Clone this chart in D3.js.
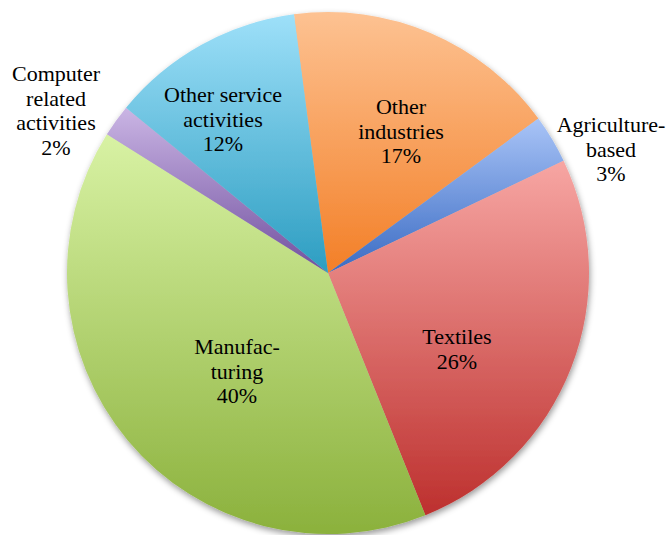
<!DOCTYPE html>
<html>
<head>
<meta charset="utf-8">
<script src="https://cdn.jsdelivr.net/npm/d3@7"></script>
<style>
  svg text { font-family: "Times New Roman", "Liberation Serif", Tinos, serif !important; }
</style>
</head>
<body style="margin:0;padding:0;background:#ffffff">
<svg id="chart" width="666" height="535" style="display:block;font-family:'Times New Roman'"></svg>
<script>
// Sectors, clockwise from just left of twelve o'clock
const categories = ["Other industries", "Agriculture-based", "Textiles", "Manufacturing",
                    "Computer related activities", "Other service activities"];
const shares = [17, 3, 26, 40, 2, 12];
const labelLines = [
  ["Other", "industries", "17%"],
  ["Agriculture-", "based", "3%"],
  ["Textiles", "26%"],
  ["Manufac-", "turing", "40%"],
  ["Computer", "related", "activities", "2%"],
  ["Other service", "activities", "12%"]
];

// Gradient stops per sector (light top, deep bottom)
const topColors    = ["#fdc292", "#a9c4f7", "#f7a6a3", "#d8f2a4", "#cab5e4", "#9ee0f9"];
const bottomColors = ["#f37f27", "#3a6bc3", "#bd302e", "#8bb13c", "#71509f", "#2c9dc1"];

// Layout
const cx = 328, cy = 273, radius = 261;
const startDeg = -7.5;
const lineStep = 24.5;
// label anchor: [dx from centre, first baseline dy from centre]
const labelOffsets = [[73, -159], [283, -141], [129, 71], [-91, 81], [-272, -192], [-105, -171]];

const svg = d3.select("#chart");
const defs = svg.append("defs");

const shadow = defs.append("filter").attr("id", "pieShadow")
  .attr("x", "-10%").attr("y", "-10%").attr("width", "120%").attr("height", "120%");
shadow.append("feDropShadow")
  .attr("dx", 1).attr("dy", 3).attr("stdDeviation", 3)
  .attr("flood-color", "#000").attr("flood-opacity", 0.4);

categories.forEach((c, i) => {
  const lg = defs.append("linearGradient").attr("id", "grad" + i)
    .attr("x1", 0).attr("y1", 0).attr("x2", 0).attr("y2", 1);
  lg.append("stop").attr("offset", "0%").attr("stop-color", topColors[i]);
  lg.append("stop").attr("offset", "100%").attr("stop-color", bottomColors[i]);
});

const startAngle = startDeg * Math.PI / 180;
const pie = d3.pie().sort(null).value(d => d)
  .startAngle(startAngle).endAngle(startAngle + 2 * Math.PI);
const arc = d3.arc().innerRadius(0).outerRadius(radius);

const arcs = pie(shares);

const slices = svg.append("g")
  .attr("transform", `translate(${cx},${cy})`)
  .attr("filter", "url(#pieShadow)");
slices.selectAll("path")
  .data(arcs)
  .enter().append("path")
  .attr("d", arc)
  .attr("fill", (d, i) => `url(#grad${i})`);

// Labels: one text per line, serif face
const labelRows = [];
arcs.forEach((d, i) => {
  labelLines[i].forEach((line, j) => {
    labelRows.push({ text: line, x: cx + labelOffsets[i][0], y: cy + labelOffsets[i][1] + j * lineStep });
  });
});
svg.selectAll("text.lbl")
  .data(labelRows)
  .enter().append("text")
  .attr("class", "lbl")
  .attr("x", d => d.x)
  .attr("y", d => d.y)
  .attr("text-anchor", "middle")
  .style("font-family", '"Times New Roman"')
  .style("font-size", "22px")
  .text(d => d.text);
</script>
</body>
</html>
